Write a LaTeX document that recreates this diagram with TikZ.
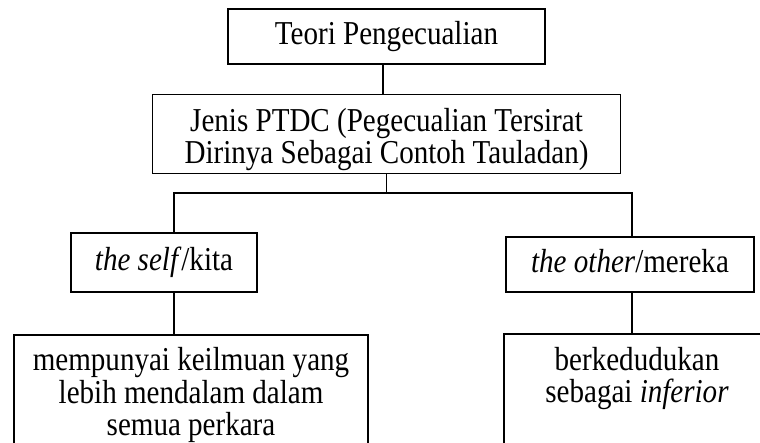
\documentclass[tikz,border=0pt]{standalone}
\usepackage{fontspec}
\setmainfont{Liberation Serif}[FakeStretch=0.87]
\usetikzlibrary{positioning}

\begin{document}
\begin{tikzpicture}[x=1pt, y=-1pt, line width=1.5pt, align=center,
    font=\fontsize{33.4}{32.5}\selectfont,
    stepbox/.style={draw, inner xsep=0pt, inner ysep=0pt, text height=24.5pt, text depth=8.5pt},
    leafbox/.style={stepbox, anchor=north, text depth=90pt}]
    \useasboundingbox (0,0) rectangle (760,442);
    \clip (0,0) rectangle (760,442);

    % Nodes
    \node (teori) [stepbox, minimum width=317pt, minimum height=55pt] at (386.5,36.5) {Teori Pengecualian};
    \node (ptdc) [stepbox, minimum width=468pt, minimum height=79pt, below=29pt of teori,
      text height=67.5pt] {Jenis PTDC (Pegecualian Tersirat\\Dirinya Sebagai Contoh Tauladan)};
    \node (self) [stepbox, minimum width=186pt, minimum height=59pt] at (164,262.5) {\textit{the self}/kita};
    \node (other) [stepbox, minimum width=248pt, minimum height=55pt] at (630,264.5) {\textit{the other}/mereka};
    \node (ilmu) [leafbox, minimum width=354pt, text height=101pt] at (191,334) {mempunyai keilmuan yang\\lebih mendalam dalam\\semua perkara};
    \node (inferior) [leafbox, minimum width=266pt, text height=69pt] at (637,333) {berkedudukan\\sebagai \textit{inferior}};
    \coordinate (forkL) at (174,193);
    \coordinate (forkR) at (632,193);

    % Lines
    \draw ([xshift=-3.5pt]teori.south) -- ([xshift=-3.5pt]ptdc.north);
    \draw (ptdc.south) -- (ptdc.south |- forkL);
    \draw (forkL |- self.north) -- (forkL) -- (forkR) -- (forkR |- other.north);
    \draw (self.south -| forkL) -- (ilmu.north -| forkL);
    \draw (other.south -| forkR) -- (inferior.north -| forkR);
\end{tikzpicture}
\end{document}
